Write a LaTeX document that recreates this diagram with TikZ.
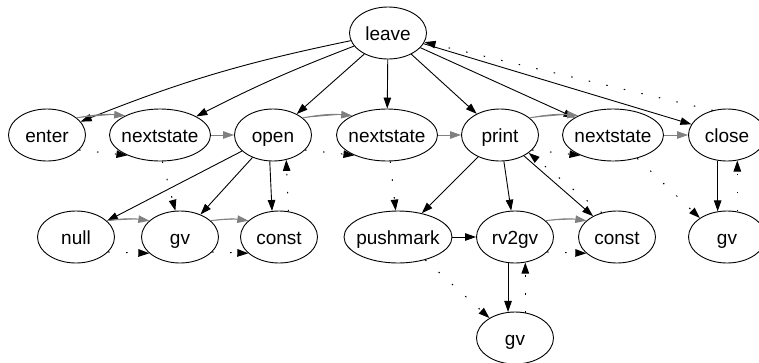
\documentclass[tikz,border=0pt]{standalone}
\usepackage{fontspec}
\setmainfont{Liberation Sans}
\usetikzlibrary{shapes.geometric,arrows.meta}
\begin{document}
\begin{tikzpicture}[x=1pt,y=-1pt,
  op/.style={draw,ellipse,line width=0.9pt,minimum width=77pt,minimum height=52pt,
    inner sep=0pt,text height=19pt,text depth=4pt,font=\fontsize{19}{22}\selectfont},
  wide/.style={op,minimum width=101pt},
  tip/.style={-{Triangle[length=11pt,width=7.5pt]}},
  kid/.style={tip,draw=black,line width=0.9pt},
  sibl/.style={tip,draw=gray,fill=gray,line width=0.9pt},
  nextop/.style={tip,draw=black,line width=1pt,dash pattern=on 1.5pt off 16.5pt}]
\useasboundingbox (0,0) rectangle (759,362);

% ops
\node[op]   (lv)  at (388,33)  {\makebox[0pt]{leave}};
\node[op]   (en)  at (47,135)  {\makebox[0pt]{enter}};
\node[wide] (ns1) at (160,135) {\makebox[0pt]{nextstate}};
\node[op]   (op)  at (273,135) {\makebox[0pt]{open}};
\node[wide] (ns2) at (387,135) {\makebox[0pt]{nextstate}};
\node[op]   (pr)  at (500,135) {\makebox[0pt]{print}};
\node[wide] (ns3) at (613,135) {\makebox[0pt]{nextstate}};
\node[op]   (cl)  at (727,135) {\makebox[0pt]{close}};
\node[op]   (nu)  at (76,237)  {\makebox[0pt]{null}};
\node[op]   (gv1) at (180,237) {\makebox[0pt]{gv}};
\node[op]   (co1) at (279,237) {\makebox[0pt]{const}};
\node[op,minimum width=108pt] (pm) at (398,237) {\makebox[0pt]{pushmark}};
\node[op]   (rv)  at (515,237) {\makebox[0pt]{rv2gv}};
\node[op]   (co2) at (617,237) {\makebox[0pt]{const}};
\node[op]   (gv2) at (727,237) {\makebox[0pt]{gv}};
\node[op]   (gv3) at (515,338) {\makebox[0pt]{gv}};

% parent -> child
\draw[kid] (lv) to[bend right=5] (en);
\draw[kid] (lv) to[bend right=3] (ns1);
\draw[kid] (lv) -- (op);
\draw[kid] (lv) -- (ns2);
\draw[kid] (lv) -- (pr);
\draw[kid] (lv) -- (ns3);
\draw[kid] (lv) -- (cl);
\draw[kid] (op) -- (nu);
\draw[kid] (op) -- (gv1);
\draw[kid] (op.-97) -- (co1.105);
\draw[kid] (pr) -- (pm);
\draw[kid] (pr) -- (rv);
\draw[kid] (pr) -- (co2);
\draw[kid] (pm) -- (rv);
\draw[kid] (rv.-105) -- (gv3.105);
\draw[kid] (cl.-110) -- (gv2.110);

% siblings
\draw[sibl] (en.30) to[bend left=8] (ns1.151);
\draw[sibl] (ns1) -- (op);
\draw[sibl] (op.30) to[bend left=8] (ns2.151);
\draw[sibl] (ns2) -- (pr);
\draw[sibl] (pr.30) to[bend left=8] (ns3.151);
\draw[sibl] (ns3) -- (cl);
\draw[sibl] (nu.28) to[bend left=8] (gv1.152);
\draw[sibl] (gv1.28) to[bend left=8] (co1.152);
\draw[sibl] (rv.28) to[bend left=8] (co2.152);

% execution order
\draw[nextop] (en.-25) -- (ns1.-148);
\draw[nextop] (ns1.-85) -- (gv1.100);
\draw[nextop] (nu.-25) -- (gv1.-152);
\draw[nextop] (gv1.-25) -- (co1.-152);
\draw[nextop] (co1.70) -- (op.-62);
\draw[nextop] (op.-25) -- (ns2.-148);
\draw[nextop] (ns2.-83) -- (pm.95);
\draw[nextop] (pm.-40) -- (gv3.142);
\draw[nextop] (gv3.68) -- (rv.-68);
\draw[nextop] (rv.-25) -- (co2.-152);
\draw[nextop] (co2.122) -- (pr.-32);
\draw[nextop] (pr.-25) -- (ns3.-148);
\draw[nextop] (ns3.-44) -- (gv2.145);
\draw[nextop] (gv2.68) -- (cl.-68);
\draw[nextop] (cl.120) -- (lv.-14);
\end{tikzpicture}
\end{document}
